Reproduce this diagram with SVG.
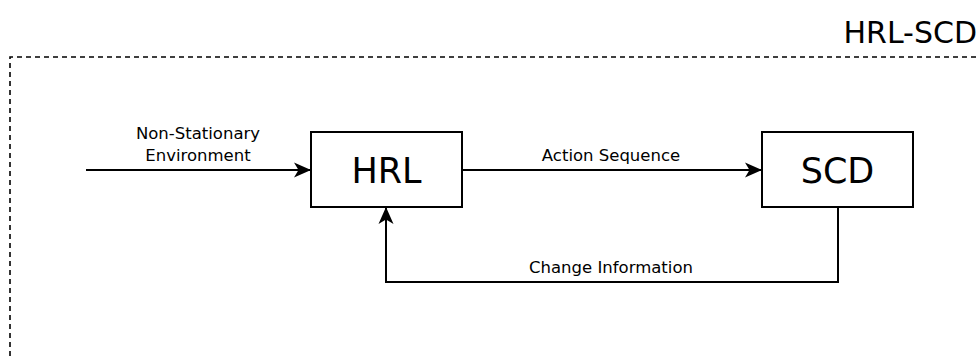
<svg xmlns="http://www.w3.org/2000/svg" width="979" height="356" viewBox="0 0 979 356">
  <defs>
    <marker id="arrow" viewBox="0 0 17 16" refX="17" refY="8" markerWidth="17" markerHeight="16" markerUnits="userSpaceOnUse" orient="auto">
      <path d="M0,0.5 L17,8 L0,15.5 L4.5,8 Z" fill="#000"/>
    </marker>
  </defs>
  <style>
    .box { fill: #fff; stroke: #000; stroke-width: 2; }
    .big { font-family: "DejaVu Sans", "Open Sans", sans-serif; font-size: 35px; fill: #000; text-anchor: middle; }
    .lbl { font-family: "DejaVu Sans", "Open Sans", sans-serif; font-size: 16.5px; fill: #000; text-anchor: middle; }
    .edge { fill: none; stroke: #000; stroke-width: 2; }
    .frame { fill: none; stroke: #000; stroke-width: 1.6; stroke-dasharray: 5 4; }
  </style>
  <rect width="979" height="356" fill="#fff"/>

  <!-- system boundary -->
  <g id="frame">
    <path class="frame" d="M10,356 L10,57 L979,57"/>
    <text x="977" y="43" font-family="DejaVu Sans, Open Sans, sans-serif" font-size="30" text-anchor="end" fill="#000">HRL-SCD</text>
  </g>

  <g id="connectors">
    <line class="edge" x1="86" y1="170" x2="311" y2="170" marker-end="url(#arrow)"/>
    <text class="lbl" x="198" y="139">Non-Stationary</text>
    <text class="lbl" x="198" y="161">Environment</text>

    <line class="edge" x1="462" y1="170" x2="762" y2="170" marker-end="url(#arrow)"/>
    <text class="lbl" x="611" y="161">Action Sequence</text>

    <path class="edge" d="M838,207 L838,282 L386,282 L386,207" marker-end="url(#arrow)"/>
    <text class="lbl" x="611" y="273">Change Information</text>
  </g>

  <g id="hrl">
    <rect class="box" x="311" y="132" width="151" height="75"/>
    <text class="big" x="386.5" y="183">HRL</text>
  </g>

  <g id="scd">
    <rect class="box" x="762" y="132" width="151" height="75"/>
    <text class="big" x="837.5" y="183">SCD</text>
  </g>
</svg>
